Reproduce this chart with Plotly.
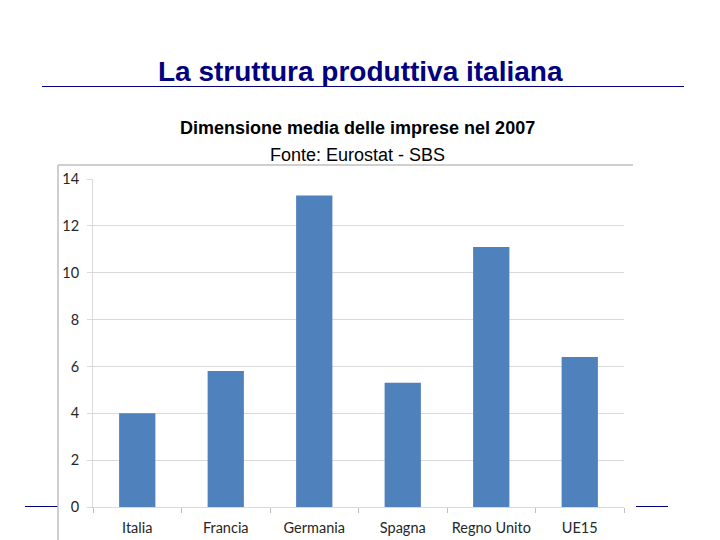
import plotly.graph_objects as go

categories = ["Italia", "Francia", "Germania", "Spagna", "Regno Unito", "UE15"]
values = [4.0, 5.8, 13.3, 5.3, 11.1, 6.4]
y_ticks = [0, 2, 4, 6, 8, 10, 12, 14]

W, H = 720, 540
OFF = 8  # page body margin
def px(x): return (x - OFF) / W
def py(y): return 1 - (y - OFF) / H

fig = go.Figure(go.Bar(x=categories, y=values, marker_color="#4F81BD",
                       marker_line_width=0, width=0.41))

navy = "#000080"
grey = "#bfbfbf"
shapes = [
    dict(type="line", xref="paper", yref="paper", x0=px(42), x1=px(684), y0=py(86.5), y1=py(86.5),
         line=dict(color=navy, width=1)),
    dict(type="line", xref="paper", yref="paper", x0=px(25), x1=px(58), y0=py(506.5), y1=py(506.5),
         line=dict(color=navy, width=1)),
    dict(type="line", xref="paper", yref="paper", x0=px(636), x1=px(668), y0=py(506.5), y1=py(506.5),
         line=dict(color=navy, width=1)),
    dict(type="line", xref="paper", yref="paper", x0=px(58), x1=px(633), y0=py(165), y1=py(165),
         line=dict(color=grey, width=1.5)),
    dict(type="line", xref="paper", yref="paper", x0=px(58), x1=px(58), y0=py(165), y1=py(548),
         line=dict(color=grey, width=1.5)),
]

annotations = [
    dict(text="<b>La struttura produttiva italiana</b>", x=px(360), y=py(71), xref="paper", yref="paper",
         showarrow=False, xanchor="center", yanchor="middle",
         font=dict(family="Liberation Sans Narrow, Arial Narrow, Liberation Sans", size=28, color=navy)),
    dict(text="<b>Dimensione media delle imprese nel 2007</b>", x=px(357), y=py(128), xref="paper", yref="paper",
         showarrow=False, xanchor="center", yanchor="middle",
         font=dict(family="Liberation Sans, Arial", size=18, color="#000000")),
    dict(text="Fonte: Eurostat - SBS", x=px(357), y=py(155), xref="paper", yref="paper",
         showarrow=False, xanchor="center", yanchor="middle",
         font=dict(family="Liberation Sans, Arial", size=18, color="#000000")),
]

fig.update_layout(
    width=W, height=H, margin=dict(l=0, r=0, t=0, b=0, autoexpand=False),
    paper_bgcolor="white", plot_bgcolor="rgba(0,0,0,0)",
    shapes=shapes, annotations=annotations, showlegend=False,
    xaxis=dict(domain=[px(93), px(624)], showgrid=False, showline=True, linecolor="#d9d9d9",
               automargin=False, ticklabelstandoff=8,
               ticks="outside", tickson="boundaries", ticklen=5, tickcolor="#bfbfbf",
               tickfont=dict(family="Lato, Open Sans", size=14.5, color="#262626")),
    yaxis=dict(domain=[py(507), py(179)], range=[0, 14], tickvals=y_ticks,
               automargin=False, ticklabelstandoff=5,
               showgrid=True, gridcolor="#d9d9d9", gridwidth=1, zeroline=False,
               showline=True, linecolor="#d9d9d9", ticks="outside", ticklen=5, tickcolor="#d9d9d9",
               tickfont=dict(family="Lato, Open Sans", size=14.5, color="#262626")),
)

fig.write_html("out.html")
